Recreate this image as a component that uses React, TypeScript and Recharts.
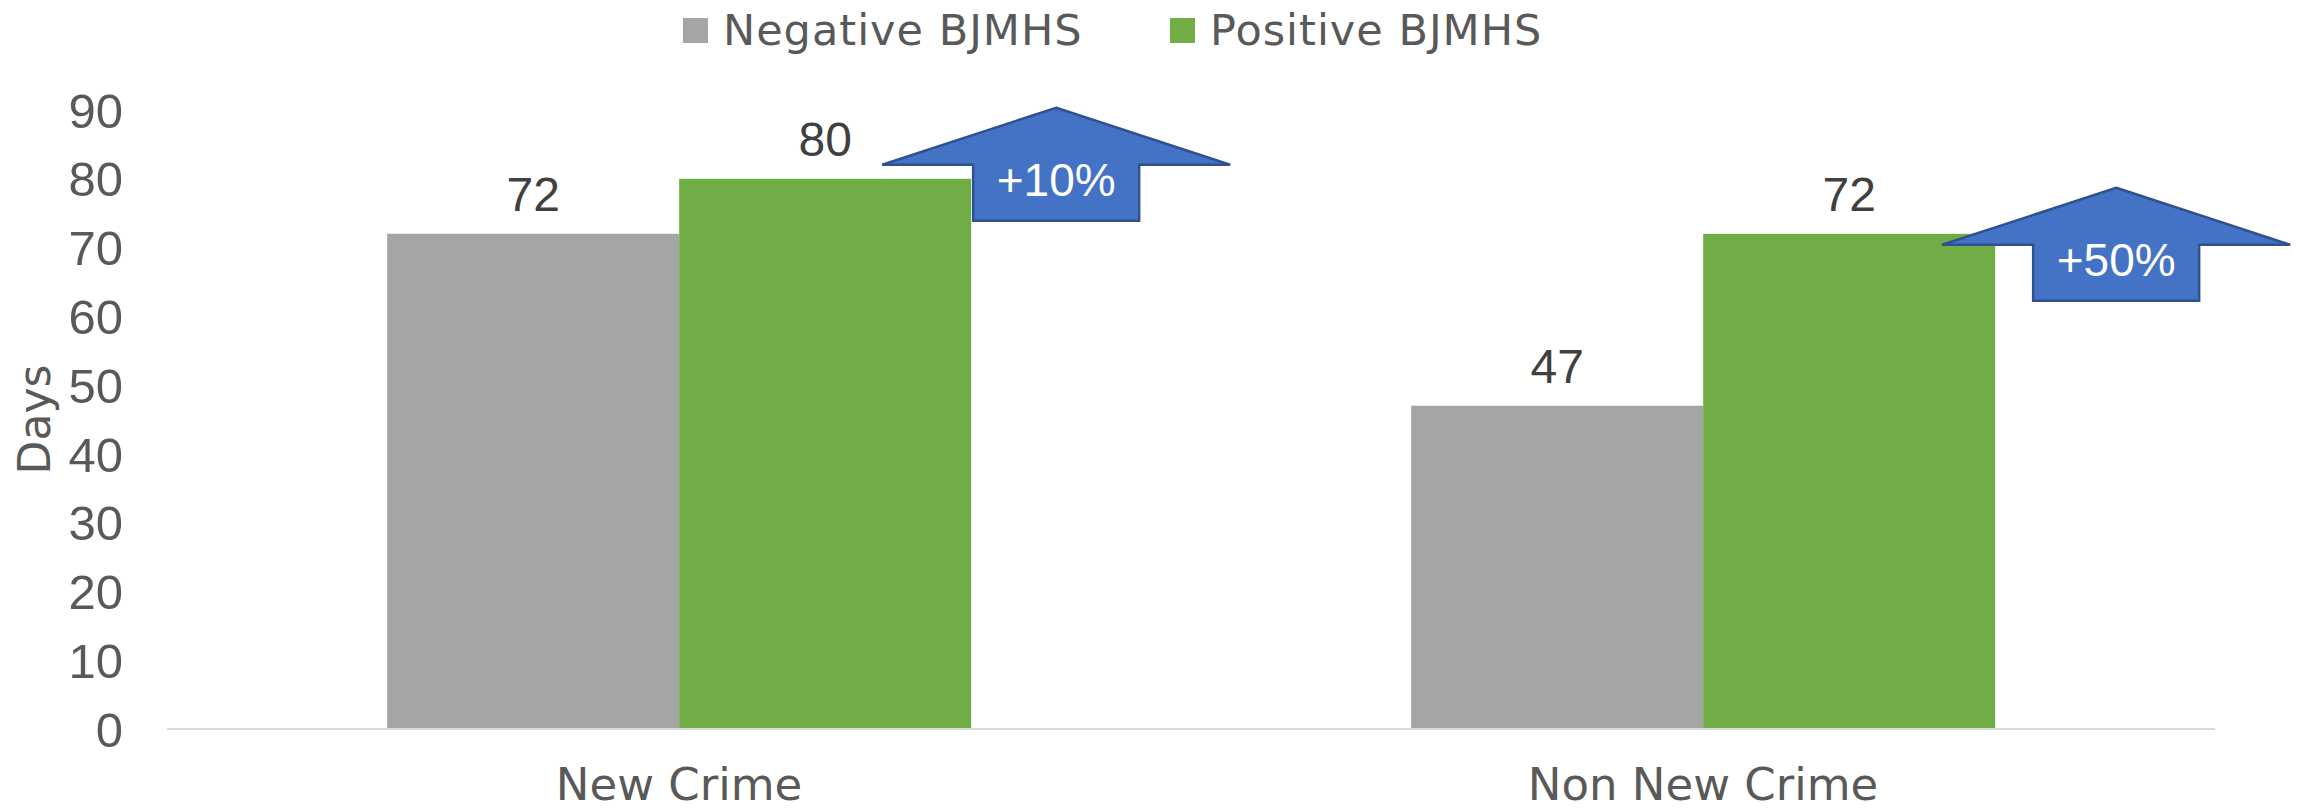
import React from "react";
import { BarChart, Bar, XAxis, YAxis, LabelList } from "recharts";

// chart values
const categories = ["New Crime", "Non New Crime"];
const negativeDays = [72, 47];
const positiveDays = [80, 72];
const changeLabels = ["+10%", "+50%"];
const yTicks = [0, 10, 20, 30, 40, 50, 60, 70, 80, 90];

const data = categories.map((c, i) => ({
  category: c,
  negative: negativeDays[i],
  positive: positiveDays[i],
  change: changeLabels[i],
}));

const GRAY = "#A5A5A5";
const GREEN = "#70AD47";
const TEXT = "#595959";
const WORD_FONT = "'DejaVu Sans', sans-serif";
const NUM_FONT = "'Liberation Sans', Arial, sans-serif";

// where each callout arrow sits relative to its green bar (dx from bar's right edge, dy from bar top)
const arrowOffsets = [
  { dx: 2, dy: -14 },
  { dx: 38, dy: 11 },
];

function XTick({ x, y, payload }: any) {
  return (
    <text x={x} y={y + 71} textAnchor="middle" fill={TEXT} fontSize={45} fontFamily={WORD_FONT}>
      {payload.value}
    </text>
  );
}

function YTick({ x, y, payload }: any) {
  return (
    <text x={x - 44} y={y} dy="0.36em" textAnchor="end" fill={TEXT} fontSize={49} fontFamily={NUM_FONT}>
      {payload.value}
    </text>
  );
}

// green bar + the blue "up" callout next to it
function PositiveBarShape(props: any) {
  const { x, y, width, height, index, fill } = props;
  const off = arrowOffsets[index] || { dx: 0, dy: 0 };
  const sw = 166;
  const sl = x + width + off.dx;
  const cx = sl + sw / 2;
  const hb = y + off.dy;
  const apex = hb - 57;
  const sb = hb + 56;
  const half = 174;
  const pts = [
    [cx, apex],
    [cx + half, hb],
    [sl + sw, hb],
    [sl + sw, sb],
    [sl, sb],
    [sl, hb],
    [cx - half, hb],
  ]
    .map((p) => p.join(","))
    .join(" ");
  return (
    <g>
      <rect x={x} y={y} width={width} height={height} fill={fill} />
      <polygon points={pts} fill="#4472C4" stroke="#2F528F" strokeWidth={2.5} strokeLinejoin="miter" />
      <text x={cx} y={hb + 15} dy="0.36em" textAnchor="middle" fill="#ffffff" fontSize={46} fontFamily={NUM_FONT}>
        {data[index] ? data[index].change : ""}
      </text>
    </g>
  );
}

function DaysLabel(props: any) {
  const vb = props.viewBox || {};
  const cx = 34;
  const cy = vb.y + vb.height / 2;
  return (
    <text
      x={cx}
      y={cy}
      dy="0.36em"
      textAnchor="middle"
      transform={`rotate(-90 ${cx} ${cy})`}
      fill={TEXT}
      fontSize={44}
      fontFamily={WORD_FONT}
    >
      Days
    </text>
  );
}

const legendItems = [
  { name: "Negative BJMHS", color: GRAY, left: 683 },
  { name: "Positive BJMHS", color: GREEN, left: 1170 },
];

export default function App() {
  return (
    <div style={{ position: "absolute", top: 0, left: 0, width: 2297, height: 812, background: "#fff" }}>
      <BarChart
        width={2297}
        height={812}
        data={data}
        margin={{ top: 110, right: 82, bottom: 0, left: 0 }}
        barCategoryGap="21.5%"
        barGap={0}
      >
        <XAxis
          dataKey="category"
          height={83}
          tickLine={false}
          tickSize={0}
          tickMargin={0}
          axisLine={{ stroke: "#D9D9D9", strokeWidth: 2 }}
          tick={<XTick />}
        />
        <YAxis
          width={167}
          domain={[0, 90]}
          ticks={yTicks}
          interval={0}
          axisLine={false}
          tickLine={false}
          tickSize={0}
          tickMargin={0}
          tick={<YTick />}
          label={{ content: (p: any) => <DaysLabel {...p} /> }}
        />
        <Bar dataKey="negative" fill={GRAY} isAnimationActive={false}>
          <LabelList
            dataKey="negative"
            position="top"
            offset={23}
            fill="#404040"
            fontSize={48}
            fontFamily={NUM_FONT}
          />
        </Bar>
        <Bar dataKey="positive" fill={GREEN} isAnimationActive={false} shape={<PositiveBarShape />}>
          <LabelList
            dataKey="positive"
            position="top"
            offset={23}
            fill="#404040"
            fontSize={48}
            fontFamily={NUM_FONT}
          />
        </Bar>
      </BarChart>
      {legendItems.map((item) => (
        <div
          key={item.name}
          style={{
            position: "absolute",
            top: 0,
            left: item.left,
            height: 60,
            display: "flex",
            alignItems: "center",
            whiteSpace: "nowrap",
          }}
        >
          <span style={{ display: "inline-block", width: 25, height: 25, background: item.color, marginRight: 15 }} />
          <span style={{ fontFamily: WORD_FONT, fontSize: 43, letterSpacing: 1, color: TEXT, lineHeight: "60px" }}>
            {item.name}
          </span>
        </div>
      ))}
    </div>
  );
}
